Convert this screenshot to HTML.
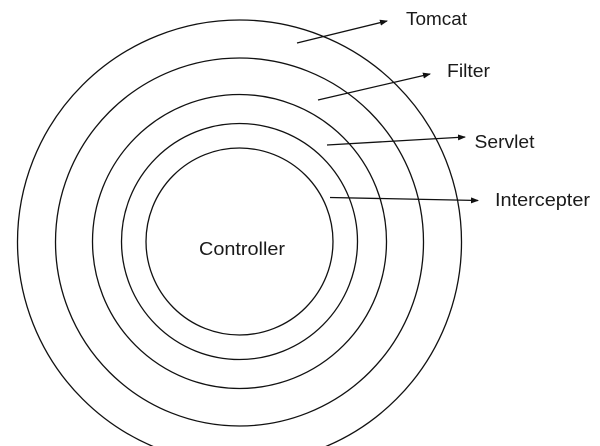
<!DOCTYPE html>
<html><head><meta charset="utf-8"><style>
html,body{margin:0;padding:0;background:#fff;width:600px;height:446px;overflow:hidden}
text{font-family:"Liberation Sans",sans-serif;font-size:18px;fill:#1a1a1a}
</style></head><body>
<svg width="600" height="446" viewBox="0 0 600 446" xmlns="http://www.w3.org/2000/svg">
<defs><marker id="a" markerWidth="8" markerHeight="6" refX="7" refY="3" orient="auto" markerUnits="userSpaceOnUse"><path d="M0,0 L8,3 L0,6 Z" fill="#111"/></marker></defs>
<g fill="none" stroke="#111" stroke-width="1.3">
<circle cx="239.5" cy="242" r="222"/>
<circle cx="239.5" cy="242" r="184"/>
<circle cx="239.5" cy="241.5" r="147"/>
<circle cx="239.5" cy="241.5" r="118"/>
<circle cx="239.5" cy="241.5" r="93.5"/>
<line x1="297" y1="43" x2="387" y2="21" marker-end="url(#a)"/>
<line x1="318" y1="100" x2="430" y2="74" marker-end="url(#a)"/>
<line x1="327" y1="145" x2="465" y2="137" marker-end="url(#a)"/>
<line x1="330" y1="197.5" x2="478" y2="200.5" marker-end="url(#a)"/>
</g>
<text x="406" y="25" textLength="61" lengthAdjust="spacingAndGlyphs">Tomcat</text>
<text x="447" y="77" textLength="43" lengthAdjust="spacingAndGlyphs">Filter</text>
<text x="474.5" y="148" textLength="60" lengthAdjust="spacingAndGlyphs">Servlet</text>
<text x="495" y="206" textLength="95" lengthAdjust="spacingAndGlyphs">Intercepter</text>
<text x="199" y="255" textLength="86" lengthAdjust="spacingAndGlyphs">Controller</text>
</svg>
</body></html>
